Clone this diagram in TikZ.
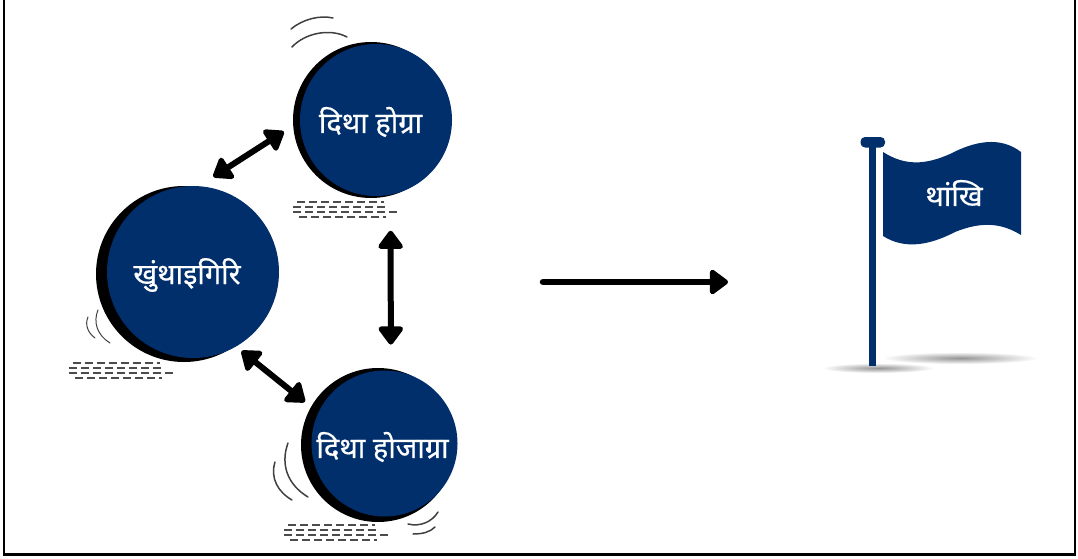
\documentclass[tikz,border=0pt]{standalone}
\usepackage{fontspec}
\newfontfamily\bodofont[Script=Devanagari,FakeBold=0.5]{Noto Sans}
\usepackage{xcolor}
\usetikzlibrary{arrows.meta,positioning,calc}
\definecolor{ballblue}{RGB}{0,47,108}

\tikzset{
  ball/.style={circle,fill=ballblue,inner sep=0pt},
  balltext/.style={text=white,font=\bodofont\fontsize{29}{34}\selectfont},
  ballback/.style={circle,fill=black,inner sep=0pt},
  twoway/.style={{Triangle[round,length=20pt,width=28pt]}-{Triangle[round,length=20pt,width=28pt]},line width=6pt},
  speedline/.style={line width=1.5pt,black!75,line cap=round},
  groundrow/.style={line width=1.8pt,black!70,dash pattern=on 8pt off 4pt},
  pics/groundmarks/.style={code={
    \draw[groundrow] (4,0) -- (91,0);
    \draw[groundrow] (0,5) -- (92,5);
    \draw[groundrow] (0,10) -- (104,10);
    \draw[groundrow] (6,15) -- (93,15);
  }}
}

\begin{document}
\begin{tikzpicture}[x=1pt,y=-1pt]
    \useasboundingbox (0,0) rectangle (1078,559);
    % frame, open at the top
    \draw[line width=2.5pt] (4,0) -- (4,554.5) -- (1075,554.5) -- (1075,0);

    % balls
    \node [ballback,minimum size=156pt] (hograback) at (371,120) {};
    \node [ball,minimum size=152pt,label={[balltext,xshift=-5.5pt,yshift=-2pt]center:दिथा होग्रा}] (hogra) at (376,120) {};
    \node [ballback,minimum size=176pt] (khungback) at (184,274) {};
    \node [ball,minimum size=172pt,label={[balltext,xshift=-6pt,yshift=-3pt]center:खुंथाइगिरि}] (khung) at (193,272) {};
    \node [ballback,minimum size=154pt] (hojagraback) at (378,445) {};
    \node [ball,minimum size=146pt,label={[balltext,xshift=-2pt,yshift=-3.5pt]center:दिथा होजाग्रा}] (hojagra) at (384.5,443.5) {};

    \draw[twoway,shorten <=17pt,shorten >=19pt] (khung.86) -- (hogra.181);
    \draw[twoway,shorten <=36pt,shorten >=26pt] (hogra.-79) -- (hojagra.85);
    \draw[twoway,shorten <=7pt,shorten >=17pt] (khung.-60) -- (hojagra.155);

    % ground marks
    \pic at (293,202) {groundmarks};
    \pic at (69,363) {groundmarks};
    \pic at (284,525) {groundmarks};

    % speed lines
    \draw[speedline] (291,29) .. controls (303,19) and (320,15) .. (333,18);
    \draw[speedline] (292,47) .. controls (305,33) and (330,28) .. (347,37);
    \draw[speedline,line width=1pt] (98,310) .. controls (93,322) and (97,335) .. (110,343);
    \draw[speedline,line width=1pt] (88,317) .. controls (85,324) and (87,332) .. (95,338);
    \draw[speedline] (288,443) .. controls (280,465) and (288,485) .. (308,497);
    \draw[speedline] (275,462) .. controls (270,478) and (278,492) .. (292,500);
    \draw[speedline] (408,524) .. controls (420,527) and (432,522) .. (438,512);
    \draw[speedline] (413,534) .. controls (423,534) and (430,532) .. (435,527);

    % result arrow
    \coordinate (arrowstart) at (543,282);
    \coordinate (arrowend) at (728,282);
    \draw[line width=6.5pt,line cap=round,-{Triangle[round,length=20pt,width=28pt]}] (arrowstart) -- (arrowend);

    % flag
    \shade[inner color=black!42,outer color=white] (960,358) ellipse [x radius=78,y radius=6];
    \shade[inner color=black!42,outer color=white] (878,368) ellipse [x radius=56,y radius=5];
    \fill[ballblue] (869,145) rectangle (876,366);
    \fill[ballblue,rounded corners=4.5pt] (860.5,137) rectangle (885,147.5);
    \fill[ballblue] (883,152) .. controls (905,166) and (925,165) .. (950,154)
        .. controls (975,141) and (1000,136) .. (1021,152) -- (1021,235)
        .. controls (1000,222) and (980,222) .. (955,232)
        .. controls (930,245) and (905,250) .. (883,236) -- cycle;
    \node [balltext] (thangkhi) at (954,193) {थांखि};
\end{tikzpicture}
\end{document}
